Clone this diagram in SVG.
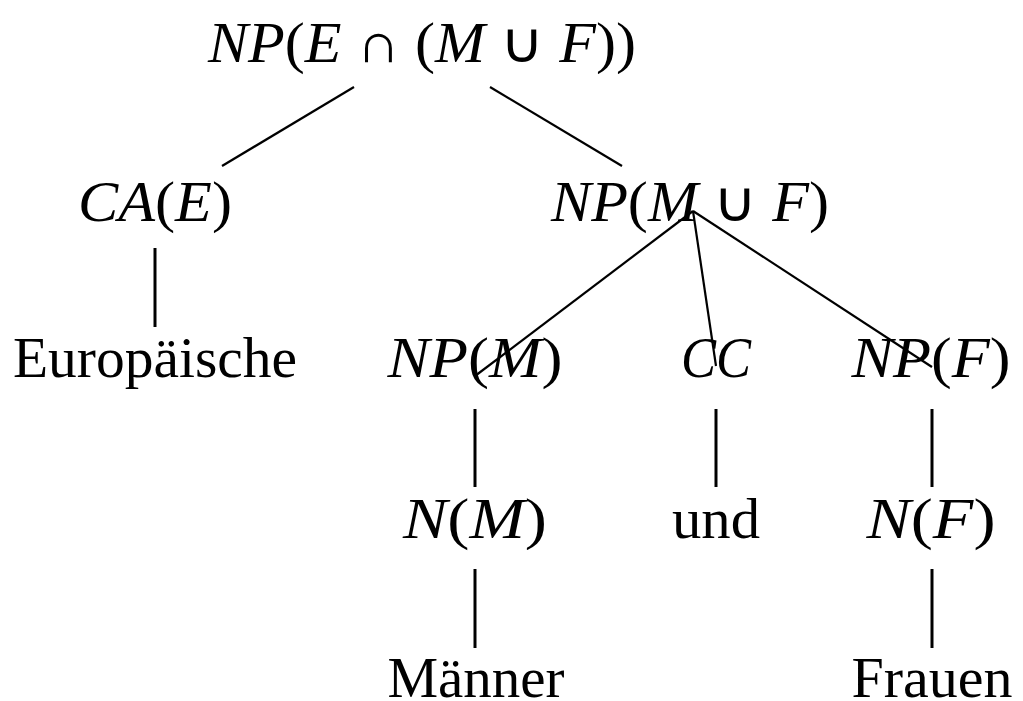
<svg xmlns="http://www.w3.org/2000/svg" width="1023" height="701" viewBox="0 0 1023 701">
<style>
text{font-family:"Liberation Serif","Times New Roman",serif;font-size:56px;fill:#000;text-anchor:middle}
.m{font-style:italic}
.u{font-style:normal}
.e line{stroke:#000;stroke-width:2.2;stroke-linecap:butt}
.e line.v{stroke-width:3}
</style>
<rect width="1023" height="701" fill="#fff"/>
<g class="e" id="connectors">
<line x1="354" y1="87" x2="222" y2="166"/>
<line x1="490" y1="87" x2="622" y2="166"/>
<line class="v" x1="155" y1="248" x2="155" y2="327"/>
<line x1="693" y1="211" x2="475" y2="376"/>
<line x1="693" y1="211" x2="716" y2="366"/>
<line x1="693" y1="211" x2="932" y2="367"/>
<line class="v" x1="475" y1="409" x2="475" y2="487"/>
<line class="v" x1="716" y1="409" x2="716" y2="487"/>
<line class="v" x1="932" y1="409" x2="932" y2="487"/>
<line class="v" x1="475" y1="569" x2="475" y2="648"/>
<line class="v" x1="932" y1="569" x2="932" y2="648"/>
</g>
<g id="root"><text x="422" y="62" textLength="428" lengthAdjust="spacingAndGlyphs"><tspan class="m">NP</tspan><tspan class="u">(</tspan><tspan class="m">E</tspan><tspan class="u"> ∩ (</tspan><tspan class="m">M</tspan><tspan class="u"> ∪ </tspan><tspan class="m">F</tspan><tspan class="u">))</tspan></text></g>
<g id="ca_e"><text x="155" y="221" textLength="154" lengthAdjust="spacingAndGlyphs"><tspan class="m">CA</tspan><tspan class="u">(</tspan><tspan class="m">E</tspan><tspan class="u">)</tspan></text></g>
<g id="np_mf"><text x="690" y="221" textLength="278" lengthAdjust="spacingAndGlyphs"><tspan class="m">NP</tspan><tspan class="u">(</tspan><tspan class="m">M</tspan><tspan class="u"> ∪ </tspan><tspan class="m">F</tspan><tspan class="u">)</tspan></text></g>
<g id="europaeische"><text x="155" y="377" textLength="284" lengthAdjust="spacingAndGlyphs">Europäische</text></g>
<g id="np_m"><text x="475" y="377" textLength="175" lengthAdjust="spacingAndGlyphs"><tspan class="m">NP</tspan><tspan class="u">(</tspan><tspan class="m">M</tspan><tspan class="u">)</tspan></text></g>
<g id="cc"><text x="716" y="377" textLength="70" lengthAdjust="spacingAndGlyphs" class="m">CC</text></g>
<g id="np_f"><text x="931" y="377" textLength="159" lengthAdjust="spacingAndGlyphs"><tspan class="m">NP</tspan><tspan class="u">(</tspan><tspan class="m">F</tspan><tspan class="u">)</tspan></text></g>
<g id="n_m"><text x="475" y="538" textLength="144" lengthAdjust="spacingAndGlyphs"><tspan class="m">N</tspan><tspan class="u">(</tspan><tspan class="m">M</tspan><tspan class="u">)</tspan></text></g>
<g id="und"><text x="716" y="538" textLength="88" lengthAdjust="spacingAndGlyphs">und</text></g>
<g id="n_f"><text x="931" y="538" textLength="129" lengthAdjust="spacingAndGlyphs"><tspan class="m">N</tspan><tspan class="u">(</tspan><tspan class="m">F</tspan><tspan class="u">)</tspan></text></g>
<g id="maenner"><text x="476" y="697" textLength="177" lengthAdjust="spacingAndGlyphs">Männer</text></g>
<g id="frauen"><text x="932" y="697" textLength="161" lengthAdjust="spacingAndGlyphs">Frauen</text></g>
</svg>
